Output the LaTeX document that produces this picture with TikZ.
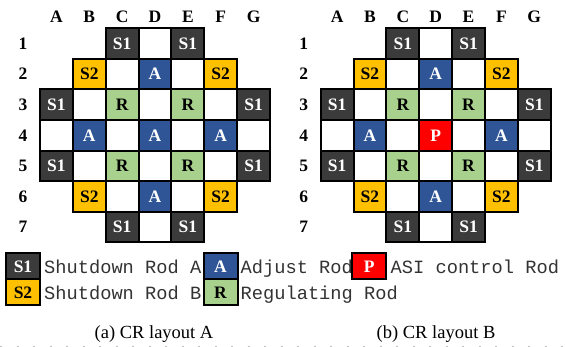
\documentclass[tikz,border=0pt]{standalone}
\usepackage{fontspec}
\setmainfont{Liberation Serif}
\newfontfamily\legmono{Liberation Mono}
\definecolor{cS1}{HTML}{3B3B3B}
\definecolor{cS2}{HTML}{FFC000}
\definecolor{cA}{HTML}{2F5597}
\definecolor{cR}{HTML}{A9D18E}
\definecolor{cP}{HTML}{FF0000}
\definecolor{legtext}{HTML}{333333}
\tikzset{
  cell/.style={draw=black, line width=2pt, minimum width=32.857pt, minimum height=30.57pt,
    inner sep=0pt, font=\fontsize{17.5}{17.5}\selectfont\bfseries},
  legbox/.style={draw=black, line width=2pt, minimum width=34pt, minimum height=26pt,
    inner sep=0pt, font=\fontsize{17.5}{17.5}\selectfont\bfseries},
  tE/.style={fill=white},
  tS1/.style={fill=cS1, text=white},
  tS2/.style={fill=cS2, text=black},
  tA/.style={fill=cA, text=white},
  tR/.style={fill=cR, text=black},
  tP/.style={fill=cP, text=white},
  axlab/.style={font=\fontsize{17.5}{17.5}\selectfont\bfseries, inner sep=0pt},
  legtxt/.style={font=\fontsize{18.7}{18.7}\legmono, text=legtext, anchor=base west, inner sep=0pt},
  captxt/.style={font=\fontsize{18.5}{18.5}\selectfont, anchor=base, inner sep=0pt}
}
\begin{document}
\begin{tikzpicture}[x=1pt, y=-1pt]
\useasboundingbox (0,0) rectangle (565,347);
\def\pw{32.857}
\def\ph{30.57}
\foreach \g/\ox in {L/40, R/320.7} {
  % column and row labels
  \foreach \cl [count=\i] in {A,B,C,D,E,F,G}
    \node[axlab] (\g-col\i) at ({\ox+\pw*(\i-0.5)}, 16.3) {\cl};
  \foreach \i in {1,...,7}
    \node[axlab] (\g-row\i) at ({\ox-17}, {28.3+\ph*(\i-0.5)}) {\i};
  % empty cells
  \foreach \c/\r in {4/1, 3/2, 5/2, 2/3, 4/3, 6/3, 1/4, 3/4, 5/4, 7/4, 2/5, 4/5, 6/5, 3/6, 5/6, 4/7}
    \node[cell, tE] (\g-\c-\r) at ({\ox+\pw*(\c-0.5)}, {28.3+\ph*(\r-0.5)}) {};
  % shutdown rods A
  \foreach \c/\r in {3/1, 5/1, 1/3, 7/3, 1/5, 7/5, 3/7, 5/7}
    \node[cell, tS1] (\g-\c-\r) at ({\ox+\pw*(\c-0.5)}, {28.3+\ph*(\r-0.5)}) {S1};
  % shutdown rods B
  \foreach \c/\r in {2/2, 6/2, 2/6, 6/6}
    \node[cell, tS2] (\g-\c-\r) at ({\ox+\pw*(\c-0.5)}, {28.3+\ph*(\r-0.5)}) {S2};
  % adjust rods
  \foreach \c/\r in {4/2, 2/4, 6/4, 4/6}
    \node[cell, tA] (\g-\c-\r) at ({\ox+\pw*(\c-0.5)}, {28.3+\ph*(\r-0.5)}) {A};
  % regulating rods
  \foreach \c/\r in {3/3, 5/3, 3/5, 5/5}
    \node[cell, tR] (\g-\c-\r) at ({\ox+\pw*(\c-0.5)}, {28.3+\ph*(\r-0.5)}) {R};
}
% centre cells
\node[cell, tA] (L-4-4) at ({40+\pw*3.5}, {28.3+\ph*3.5}) {A};
\node[cell, tP] (R-4-4) at ({320.7+\pw*3.5}, {28.3+\ph*3.5}) {P};

% legend texts (drawn first, boxes overlap them)
\node[legtxt] (t1) at (44, 274) {Shutdown Rod A};
\node[legtxt] (t2) at (44, 299.5) {Shutdown Rod B};
\node[legtxt] (t3) at (240.5, 274) {Adjust Rod};
\node[legtxt] (t4) at (240.5, 299.5) {Regulating Rod};
\node[legtxt] (t5) at (390.5, 274) {ASI control Rod};
% legend boxes
\node[legbox, tS1] (k1) at (23, 266.5) {S1};
\node[legbox, tS2] (k2) at (23, 292.5) {S2};
\node[legbox, tA] (k3) at (220.5, 266.5) {A};
\node[legbox, tR] (k4) at (220.5, 292.5) {R};
\node[legbox, tP] (k5) at (369.2, 266.5) {P};

% captions
\node[captxt] (capa) at (154, 339) {(a) CR layout A};
\node[captxt] (capb) at (436, 339) {(b) CR layout B};

% faint dashed rule at the bottom
\draw[black!25, line width=1pt, dash pattern=on 2pt off 14.5pt] (0,346.3) -- (565,346.3);
\end{tikzpicture}
\end{document}
